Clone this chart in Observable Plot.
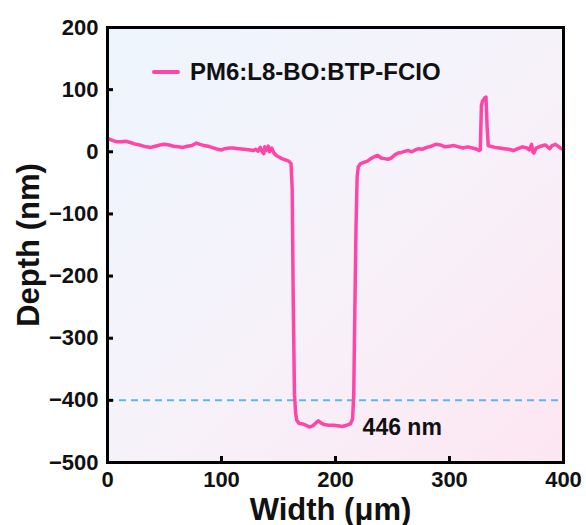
<!DOCTYPE html>
<html>
<head>
<meta charset="utf-8">
<script src="https://cdn.jsdelivr.net/npm/d3@7"></script>
<script src="https://cdn.jsdelivr.net/npm/@observablehq/plot@0.6"></script>
<style>
  body { margin: 0; background: #fff; font-family: Arial, "Liberation Sans", sans-serif; }
  #wrap { position: relative; width: 586px; height: 525px; }
  #legend { position: absolute; left: 152px; top: 57px; display: flex; align-items: center;
    font: bold 24px Arial, "Liberation Sans", sans-serif; color: #111; line-height: 30px; }
  #legend .sw { width: 28px; height: 4px; background: #ff45a8; margin-right: 10px; border-radius: 2px; }
</style>
</head>
<body>
<div id="wrap"><div id="legend"><span class="sw"></span><span id="legtext"></span></div></div>
<script>
const seriesName = "PM6:L8-BO:BTP-FCIO";
const xTicks = [0, 100, 200, 300, 400];
const yTicks = [-500, -400, -300, -200, -100, 0, 100, 200];
const refDepth = [-400];
const annotation = ["446 nm"];
const width_um = [0,2,5,8,12,16,20,25,30,34,38,42,46,50,54,58,62,66,70,74,78,81,85,90,95,100,103,107,110,115,120,125,128,130,132,134,135,137,138,139,141,142,144,146,148,150,153,156,159,161,162,163,164,165,166,168,171,174,177,180,183,185,187,190,194,198,202,206,210,213,215,216,217,218,219,220,222,225,228,231,234,237,240,243,246,249,252,255,258,261,264,267,270,273,276,280,284,288,292,296,300,304,308,312,316,320,324,326,327,328,329,330,331,332,333,334,336,340,344,348,352,356,360,364,368,370,372,373,374,376,380,384,386,388,390,393,396,398,400];
const depth_nm = [22,20,18,16,16,17,15,12,10,8,7,9,11,12,11,9,8,7,9,10,14,12,10,8,5,3,5,6,6,5,4,3,2,4,1,7,2,-3,8,2,9,0,6,-2,-6,-8,-11,-13,-15,-19,-60,-250,-390,-420,-432,-437,-438,-440,-443,-441,-436,-433,-436,-439,-440,-440,-441,-442,-440,-438,-430,-390,-250,-120,-40,-24,-19,-17,-15,-11,-8,-6,-10,-11,-12,-10,-5,-2,-1,1,2,0,3,5,4,7,9,12,11,8,9,10,8,6,8,6,4,2,3,75,82,84,87,88,40,10,9,7,6,5,4,2,5,8,6,3,12,0,-2,6,9,11,8,5,10,12,8,5,4];

const data = width_um.map((x, i) => ({x, y: depth_nm[i]}));
const bottom = data.filter(d => d.y < -420);
const note = [{x: bottom.at(-1).x, y: d3.mean(bottom, d => d.y), label: annotation[0]}];

document.getElementById("legtext").textContent = seriesName;

const W = 586, H = 525, mL = 107, mR = 23, mT = 27, mB = 63, tickLen = 6;
const frameW = W - mL - mR, frameH = H - mT - mB;

const font = "Arial, 'Liberation Sans', sans-serif";
const minus = d => d3.format("d")(d).replace("-", "\u2212");
const chart = Plot.plot({
  width: W, height: H,
  marginLeft: mL, marginRight: mR, marginTop: mT, marginBottom: mB,
  style: {fontFamily: font, background: "transparent", color: "#111"},
  x: {domain: [0, 400], ticks: xTicks},
  y: {domain: [-500, 200], ticks: yTicks},
  marks: [
    Plot.frame({fill: "url(#bgGrad)", stroke: "none"}),
    Plot.ruleY(refDepth, {stroke: "#5ab8ef", strokeWidth: 2, strokeDasharray: "7,5"}),
    Plot.line(data, {x: "x", y: "y", stroke: "#ff45a8", strokeWidth: 3.5, strokeLinejoin: "round"}),
    Plot.text(note, {x: "x", y: "y", text: "label", textAnchor: "start", dx: 10, dy: 4, fontSize: 23, fontWeight: "bold", fill: "#111"}),
    Plot.axisX({ticks: xTicks, tickSize: 0, tickPadding: 9, tickFormat: d => d, fontSize: 22, fontWeight: "bold", label: null}),
    Plot.axisY({ticks: yTicks, tickSize: 0, tickPadding: 9, tickFormat: minus, fontSize: 22, fontWeight: "bold", label: null}),
    Plot.tickX(xTicks, {x: d => d, insetTop: frameH - tickLen, stroke: "#000", strokeWidth: 3}),
    Plot.tickY(yTicks, {y: d => d, insetRight: frameW - tickLen, stroke: "#000", strokeWidth: 3}),
    Plot.frame({stroke: "#000", strokeWidth: 3}),
    Plot.text(["Width (\u03bcm)"], {frameAnchor: "bottom", dy: 57, dx: -5, fontSize: 31, fontWeight: "bold", fill: "#111"}),
    Plot.text(["Depth (nm)"], {frameAnchor: "left", dx: -78, rotate: -90, textAnchor: "middle", fontSize: 31, fontWeight: "bold", fill: "#111"})
  ]
});

const svg = d3.select(chart);
const defs = svg.insert("defs", ":first-child");
const g = defs.append("linearGradient").attr("id", "bgGrad").attr("x1", "0%").attr("y1", "0%").attr("x2", "100%").attr("y2", "100%");
g.append("stop").attr("offset", "0%").attr("stop-color", "#edf5fd");
g.append("stop").attr("offset", "50%").attr("stop-color", "#f6f2fa");
g.append("stop").attr("offset", "100%").attr("stop-color", "#fde6f1");

document.getElementById("wrap").prepend(chart);
</script>
</body>
</html>
